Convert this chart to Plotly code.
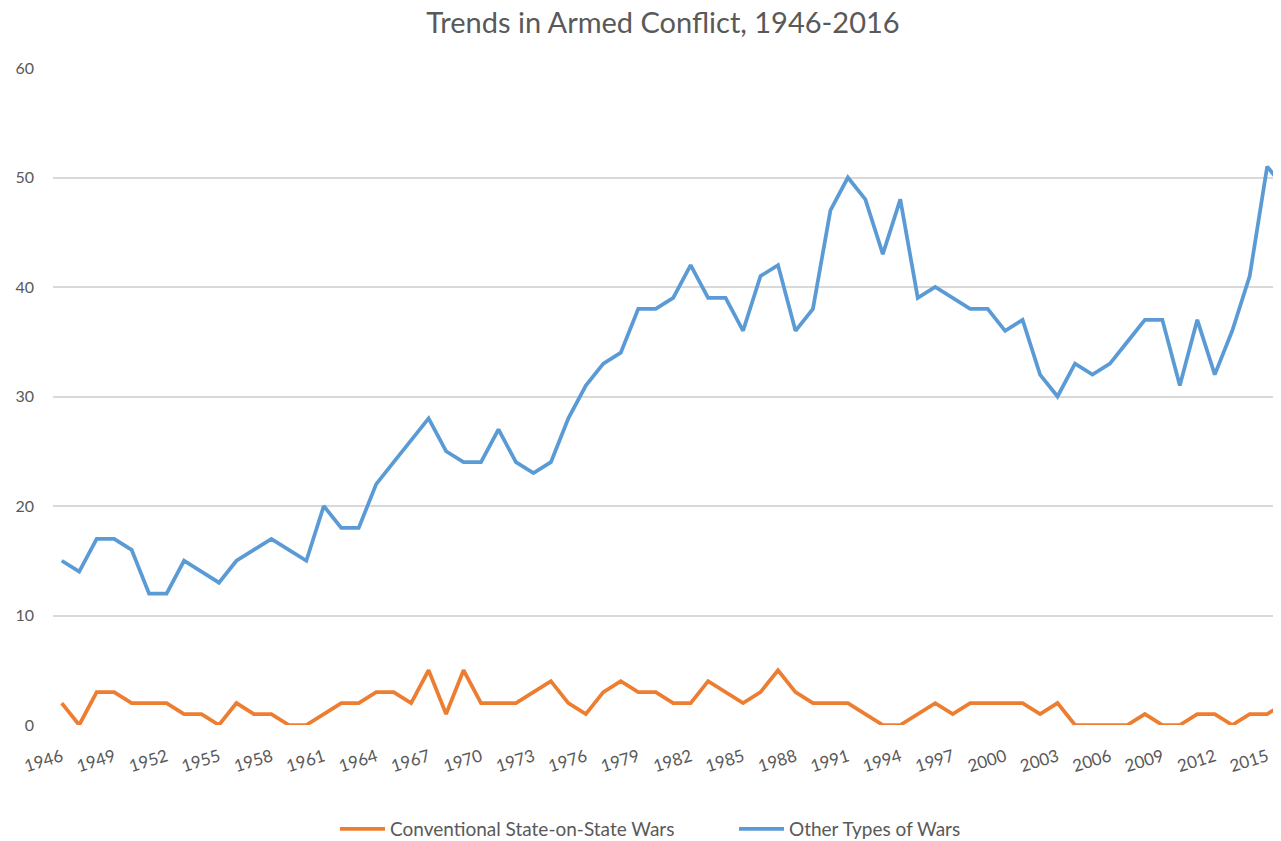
import plotly.graph_objects as go

years = list(range(1946, 2017))

conventional = [2, 0, 3, 3, 2, 2, 2, 1, 1, 0,
                2, 1, 1, 0, 0, 1, 2, 2, 3, 3,
                2, 5, 1, 5, 2, 2, 2, 3, 4, 2,
                1, 3, 4, 3, 3, 2, 2, 4, 3, 2,
                3, 5, 3, 2, 2, 2, 1, 0, 0, 1,
                2, 1, 2, 2, 2, 2, 1, 2, 0, 0,
                0, 0, 1, 0, 0, 1, 1, 0, 1, 1,
                2]

other = [15, 14, 17, 17, 16, 12, 12, 15, 14, 13,
         15, 16, 17, 16, 15, 20, 18, 18, 22, 24,
         26, 28, 25, 24, 24, 27, 24, 23, 24, 28,
         31, 33, 34, 38, 38, 39, 42, 39, 39, 36,
         41, 42, 36, 38, 47, 50, 48, 43, 48, 39,
         40, 39, 38, 38, 36, 37, 32, 30, 33, 32,
         33, 35, 37, 37, 31, 37, 32, 36, 41, 51,
         49]

tick_years = list(range(1946, 2017, 3))
y_ticks = [0, 10, 20, 30, 40, 50, 60]

series_names = ["Conventional State-on-State Wars", "Other Types of Wars"]
colors = ["#ED7D31", "#5B9BD5"]

fig = go.Figure()
fig.add_trace(go.Scatter(x=years, y=conventional, mode="lines", name=series_names[0],
                         line=dict(color=colors[0], width=3.75)))
fig.add_trace(go.Scatter(x=years, y=other, mode="lines", name=series_names[1],
                         line=dict(color=colors[1], width=3.75)))

font_family = "Lato, Open Sans, Arial, sans-serif"
gray = "#595959"

# page has an 8px body margin; figure sized to fill the 1281x841 window
W, H = 1273, 833
plot_left = 45
px_per_year = 17.47
x_end = 1945.5 + (W - plot_left) / px_per_year

fig.update_layout(
    width=W, height=H,
    margin=dict(l=plot_left, r=0, t=60, b=116),
    paper_bgcolor="white", plot_bgcolor="white",
    title=dict(text="Trends in Armed Conflict, 1946-2016", x=655 / W, xanchor="center",
               y=1 - 5 / H, yanchor="top",
               font=dict(family=font_family, size=29, color=gray)),
    xaxis=dict(range=[1945.5, x_end], tickmode="array", tickvals=tick_years,
               ticktext=[str(t) for t in tick_years], tickangle=-17,
               showgrid=False, zeroline=False, showline=False, ticks="",
               ticklabelstandoff=18, automargin=False,
               tickfont=dict(family=font_family, size=17, color=gray)),
    yaxis=dict(range=[0, 60], tickmode="array", tickvals=y_ticks,
               showgrid=True, gridcolor="#D9D9D9", gridwidth=1.5, zeroline=False,
               showline=False, ticks="", ticklabelstandoff=18, automargin=False,
               tickfont=dict(family=font_family, size=16, color=gray)),
    legend=dict(orientation="h", x=327 / W, xanchor="left", xref="container",
                y=1 - 821 / H, yanchor="middle", yref="container",
                font=dict(family=font_family, size=19, color=gray),
                itemwidth=45, entrywidth=339),
)

fig.write_html("out.html")
